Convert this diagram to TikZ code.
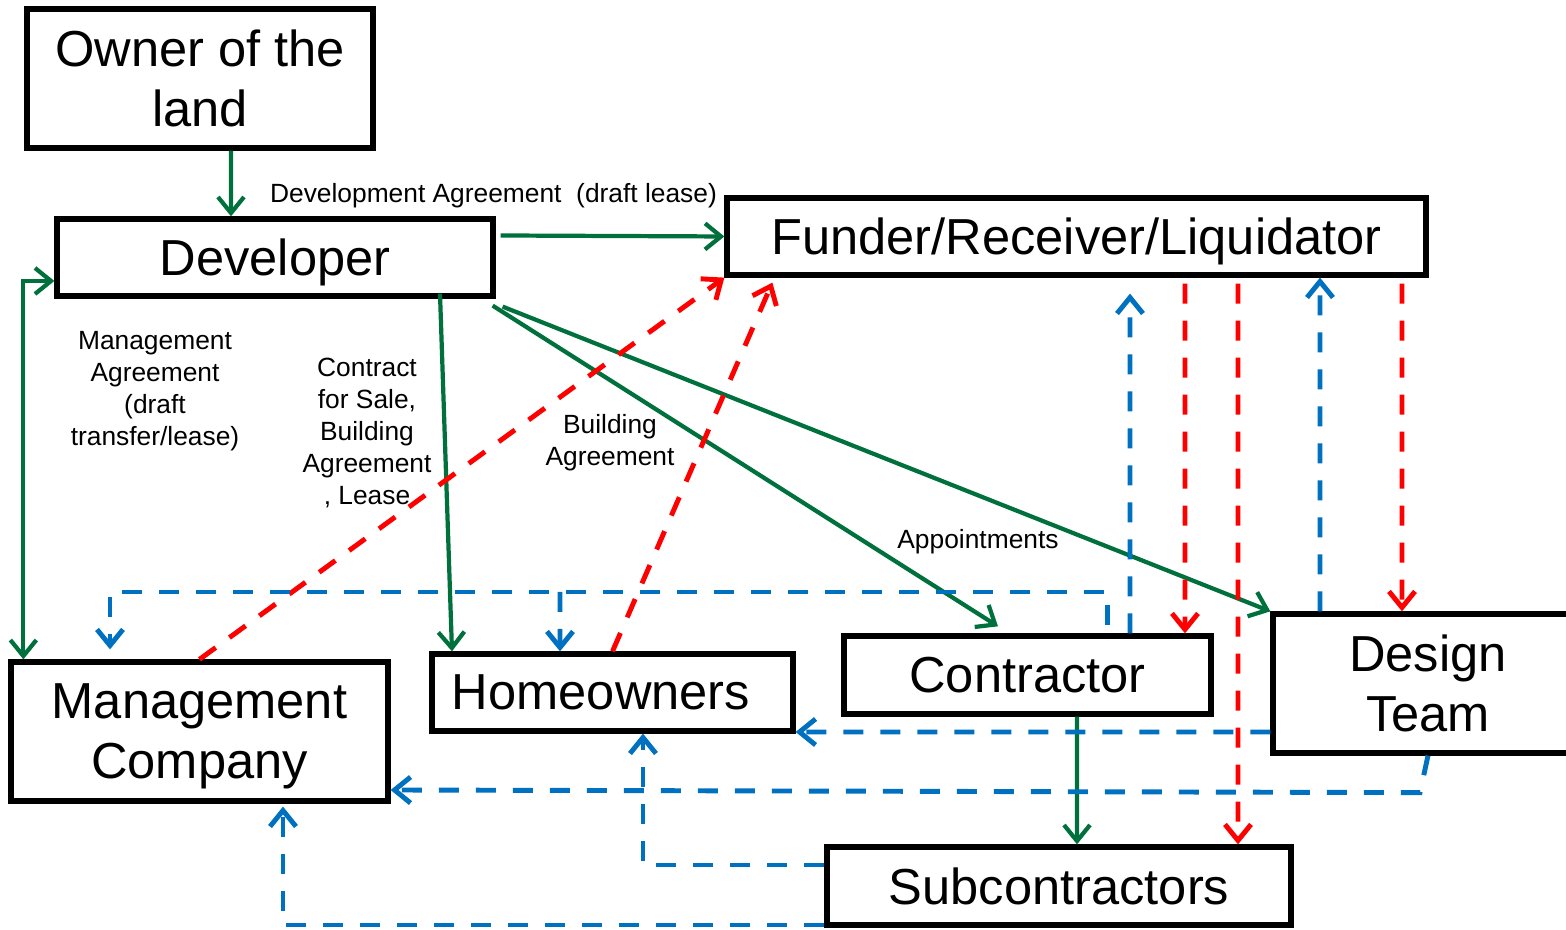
\documentclass[tikz,border=0pt]{standalone}
\usepackage{fontspec}
\setmainfont{Liberation Sans}
\usetikzlibrary{arrows.meta}
\definecolor{agreen}{RGB}{0,112,60}
\definecolor{ablue}{RGB}{0,112,192}
\definecolor{ared}{RGB}{255,0,0}
\begin{document}
\begin{tikzpicture}[>={Straight Barb[length=1.6mm,width=2.6mm]},
                    box/.style={draw, line width=1.5pt, inner sep=0pt, align=center, font=\fontsize{14.4}{17}\selectfont},
                    lbl/.style={align=center, inner sep=0pt, font=\fontsize{7.5}{9.1}\selectfont},
                    grn/.style={draw=agreen, line width=1.2pt, ->},
                    rdash/.style={draw=ared, line width=1.4pt, dash pattern=on 2mm off 1.7mm, ->},
                    bdash/.style={draw=ablue, line width=1.4pt, dash pattern=on 2mm off 1.7mm, ->}]
                    \useasboundingbox (0,0) rectangle (15.66,9.30);
                    \clip (0,0) rectangle (15.66,9.30);
                    \node[box, minimum width=3.46cm, minimum height=1.39cm] (owner) at (2.00,8.515) {Owner of the\\land};
                    \node[box, minimum width=4.36cm, minimum height=0.77cm, text depth=0pt] (dev) at (2.75,6.725) {Developer};
                    \node[box, minimum width=6.99cm, minimum height=0.77cm, text depth=0pt] (fund) at (10.765,6.935) {Funder/Receiver/Liquidator};
                    \node[box, minimum width=3.77cm, minimum height=1.39cm] (mgmt) at (1.995,1.985) {Management\\Com\smash{p}an\smash{y}};
                    \node[box, minimum width=3.61cm, minimum height=0.77cm, text width=3.21cm, align=left] (home) at (6.125,2.375) {Homeowners};
                    \node[box, minimum width=3.67cm, minimum height=0.78cm] (contr) at (10.275,2.55) {Contractor};
                    \node[box, minimum width=3.10cm, minimum height=1.39cm] (design) at (14.28,2.465) {Design\\Team};
                    \node[box, minimum width=4.64cm, minimum height=0.78cm] (sub) at (10.59,0.44) {Subcontractors};
                    \node[lbl] (devag) at (4.935,7.345) {Development Agreement\ \ (draft lease)};
                    \node[lbl] (mgag) at (1.55,5.39) {Management\\Agreement\\(draft\\transfer/lease)};
                    \node[lbl] (cfs) at (3.67,4.97) {Contract\\for Sale,\\Building\\Agreement\\, Lease};
                    \node[lbl] (bag) at (6.10,4.87) {Building\\Agreement};
                    \node[lbl] (appt) at (9.78,3.88) {Appointments};
                    \draw[grn] ([xshift=3.1mm]owner.south) -- ([xshift=-4.4mm]dev.north);
                    \draw[grn] ([xshift=0.5mm,yshift=2.2mm]dev.east) -- (fund.west);
                    \draw[grn] ([xshift=16.5mm,yshift=0.5mm]dev.south) -- ([xshift=-16.05mm]home.north);
                    \draw[grn] ([xshift=-0.3mm,yshift=-0.7mm]dev.south east) -- ([xshift=-2.95mm,yshift=0.7mm]contr.north);
                    \draw[grn] ([xshift=0.7mm,yshift=-0.8mm]dev.south east) -- (design.north west);
                    \draw[grn,<->] ([yshift=-2.35mm]dev.west) -| ([xshift=1.5mm]mgmt.north west);
                    \draw[grn] ([xshift=4.95mm]contr.south) -- ([xshift=1.8mm]sub.north);
                    \draw[rdash] (mgmt.north) -- (fund.south west);
                    \draw[rdash] (home.north) -- ([xshift=4.8mm,yshift=-0.5mm]fund.south west);
                    \draw[rdash,shorten <=0.6mm] ([xshift=10.85mm]fund.south) -- ([xshift=15.75mm]contr.north);
                    \draw[rdash,shorten <=0.6mm] ([xshift=16.15mm]fund.south) -- ([xshift=17.9mm]sub.north);
                    \draw[rdash,shorten <=0.6mm] ([xshift=32.55mm]fund.south) -- ([xshift=-2.6mm]design.north);
                    \draw[bdash,shorten >=1.6mm] ([xshift=10.25mm]contr.north) -- ([xshift=5.35mm]fund.south);
                    \draw[bdash] ([xshift=-10.8mm]design.north) -- ([xshift=24.35mm]fund.south);
                    \coordinate (bus) at (5.60,3.38);
                    \draw[bdash,shorten <=0.8mm,shorten >=1mm] ([xshift=8mm]contr.north) |- (bus) -| ([xshift=-8.95mm]mgmt.north);
                    \draw[bdash] (bus) -- ([xshift=-5.25mm]home.north);
                    \draw[bdash] ([yshift=-4.85mm]design.west) -- ([yshift=-3.95mm]home.east);
                    \draw[bdash] (design.south) -- ++(-0.08,-0.37) -- ([yshift=-5.85mm]mgmt.east);
                    \draw[bdash] ([yshift=2.1mm]sub.west) -| ([xshift=3.05mm]home.south);
                    \draw[bdash,shorten >=0.3mm] ([yshift=-3.9mm]sub.west) -| ([xshift=8.35mm]mgmt.south);
                \end{tikzpicture}
\end{document}
